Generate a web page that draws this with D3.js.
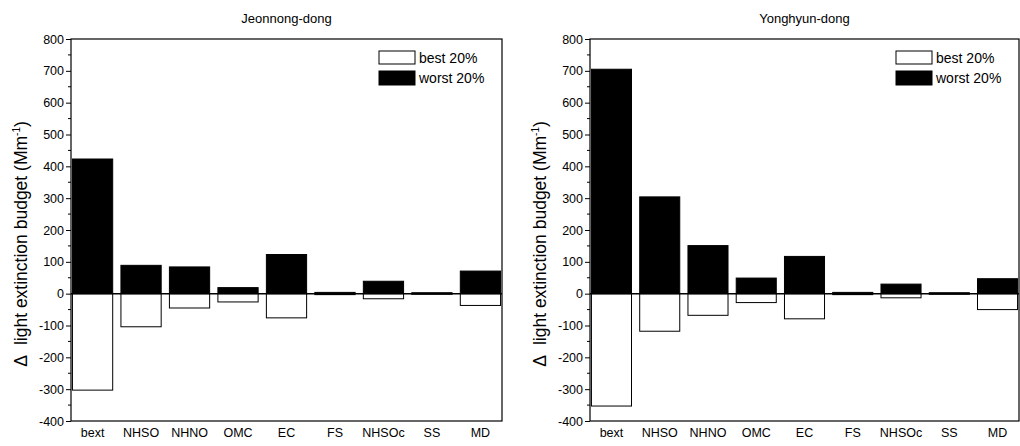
<!DOCTYPE html>
<html>
<head>
<meta charset="utf-8">
<script src="https://cdn.jsdelivr.net/npm/d3@7"></script>
<style>
  body { margin: 0; background: #fff; }
  svg { font-family: Arial, "Liberation Sans", sans-serif; }
</style>
</head>
<body>
<div id="chart"></div>
<script>
// categories shared by both panels
const categories = ["bext", "NHSO", "NHNO", "OMC", "EC", "FS", "NHSOc", "SS", "MD"];
const yTicks = [800, 700, 600, 500, 400, 300, 200, 100, 0, -100, -200, -300, -400];

// Jeonnong-dong
const jeonWorst = [423, 89, 84, 19, 123, 4, 39, 3, 71];
const jeonBest = [-303, -104, -45, -26, -76, -3, -16, -2, -37];

// Yonghyun-dong
const yongWorst = [705, 304, 151, 49, 117, 4, 30, 3, 47];
const yongBest = [-353, -118, -68, -28, -79, -3, -13, -2, -50];

const W = 1020, H = 446;
const svg = d3.select("#chart").append("svg")
    .attr("width", W)
    .attr("height", H);

function drawPanel(title, worst, best, left, right, yLabelX) {
    let top = 39, bottom = 421;

    let x = d3.scaleBand()
        .domain(categories)
        .range([left, right])
        .paddingInner(0.17)
        .paddingOuter(0.03);

    let y = d3.scaleLinear()
        .domain([-400, 800])
        .range([bottom, top]);

    let g = svg.append("g");

    // worst 20% bars (positive)
    g.selectAll("rect.worst")
        .data(categories)
        .enter()
        .append("rect")
        .attr("class", "worst")
        .attr("x", d => x(d))
        .attr("width", x.bandwidth())
        .attr("y", (d, i) => y(worst[i]))
        .attr("height", (d, i) => y(0) - y(worst[i]))
        .attr("fill", "#000")
        .attr("stroke", "#000")
        .attr("stroke-width", 1);

    // best 20% bars (negative)
    g.selectAll("rect.best")
        .data(categories)
        .enter()
        .append("rect")
        .attr("class", "best")
        .attr("x", d => x(d))
        .attr("width", x.bandwidth())
        .attr("y", y(0))
        .attr("height", (d, i) => y(best[i]) - y(0))
        .attr("fill", "#fff")
        .attr("stroke", "#000")
        .attr("stroke-width", 1);

    // zero line
    g.append("line")
        .attr("x1", left).attr("x2", right)
        .attr("y1", y(0)).attr("y2", y(0))
        .attr("stroke", "#000")
        .attr("stroke-width", 1.5);

    // frame
    g.append("rect")
        .attr("x", left).attr("y", top)
        .attr("width", right - left).attr("height", bottom - top)
        .attr("fill", "none")
        .attr("stroke", "#000")
        .attr("stroke-width", 1.2);

    // minor ticks
    let minor = d3.range(-350, 800, 100);
    g.selectAll("line.minor")
        .data(minor)
        .enter()
        .append("line")
        .attr("x1", left - 3).attr("x2", left)
        .attr("y1", d => y(d)).attr("y2", d => y(d))
        .attr("stroke", "#000");

    // y axis
    let yAxis = d3.axisLeft(y)
        .tickValues(yTicks)
        .tickSize(5)
        .tickPadding(2)
        .tickFormat(d => d);
    let ya = g.append("g")
        .attr("transform", "translate(" + left + ",0)")
        .call(yAxis);
    ya.select(".domain").remove();
    ya.selectAll("text")
        .style("font-size", "12.5px")
        .attr("fill", "#000");

    // x axis labels
    let xAxis = d3.axisBottom(x).tickSize(0).tickPadding(7);
    let xa = g.append("g")
        .attr("transform", "translate(0," + bottom + ")")
        .call(xAxis);
    xa.select(".domain").remove();
    xa.selectAll("text")
        .style("font-size", "12.5px")
        .attr("fill", "#000");

    // title
    g.append("text")
        .attr("x", (left + right) / 2)
        .attr("y", 23)
        .attr("text-anchor", "middle")
        .style("font-size", "13px")
        .text(title);

    // y label
    let yl = g.append("text")
        .attr("transform", "translate(" + yLabelX + "," + ((top + bottom) / 2 + 14) + ") rotate(-90)")
        .attr("text-anchor", "middle")
        .style("font-size", "17.5px");
    yl.append("tspan").text("Δ");
    yl.append("tspan").attr("dx", 10).text("light extinction budget (Mm");
    yl.append("tspan").attr("dy", -7).style("font-size", "10px").text("-1");
    yl.append("tspan").attr("dy", 7).text(")");

    // legend
    let lx = right - 123, ly = 51;
    let key = g.append("g").attr("transform", "translate(" + lx + "," + ly + ")");
    key.append("rect")
        .attr("width", 36).attr("height", 13)
        .attr("fill", "#fff").attr("stroke", "#000");
    key.append("rect")
        .attr("y", 20)
        .attr("width", 36).attr("height", 14)
        .attr("fill", "#000").attr("stroke", "#000");
    key.append("text")
        .attr("x", 40).attr("y", 12)
        .style("font-size", "14px")
        .text("best 20%");
    key.append("text")
        .attr("x", 40).attr("y", 32)
        .style("font-size", "14px")
        .text("worst 20%");
}

drawPanel("Jeonnong-dong", jeonWorst, jeonBest, 71, 502, 27);
drawPanel("Yonghyun-dong", yongWorst, yongBest, 590, 1019, 546);
</script>
</body>
</html>
